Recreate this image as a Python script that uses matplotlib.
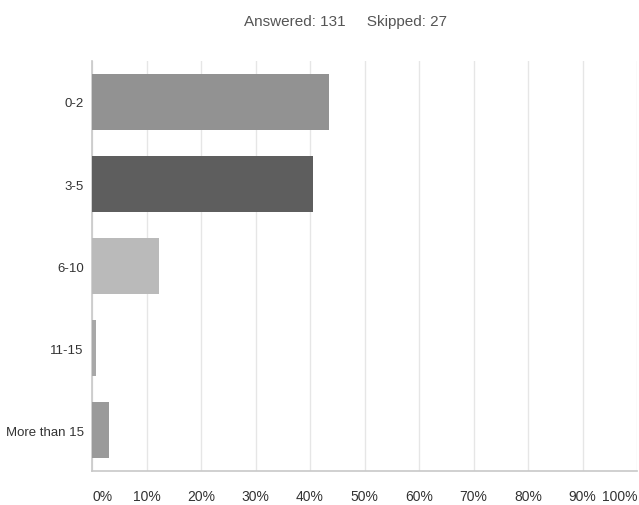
import matplotlib.pyplot as plt

categories = ['0-2', '3-5', '6-10', '11-15', 'More than 15']
percents = [43.51, 40.46, 12.21, 0.76, 3.05]
bar_colors = ['#929292', '#5e5e5e', '#bababa', '#a8a8a8', '#9a9a9a']
x_ticks = [0, 10, 20, 30, 40, 50, 60, 70, 80, 90, 100]
x_labels = [f'{t}%' for t in x_ticks]
title = 'Answered: 131     Skipped: 27'

plt.rcParams['font.family'] = ['Liberation Sans', 'DejaVu Sans']

fig = plt.figure(figsize=(6.39, 5.06), dpi=100)
ax = fig.add_axes([0.144, 0.067, 0.853, 0.8105])

ax.barh(range(len(categories)), percents, height=0.68, color=bar_colors, zorder=3)

ax.set_xlim(0, 100)
ax.set_ylim(len(categories) - 0.5, -0.5)
ax.set_yticks(range(len(categories)))
ax.set_yticklabels(categories, fontsize=9.5, color='#333333')
ax.set_xticks(x_ticks)
ax.set_xticklabels(x_labels, fontsize=10, color='#333333')
lbls = ax.get_xticklabels()
lbls[0].set_ha('left')
lbls[-1].set_ha('right')

ax.tick_params(axis='y', length=0, pad=6)
ax.tick_params(axis='x', length=0, pad=13)
ax.grid(axis='x', color='#e6e6e6', linewidth=1, zorder=0)

for side in ['top', 'right']:
    ax.spines[side].set_visible(False)
for side in ['left', 'bottom']:
    ax.spines[side].set_color('#c8c8c8')
    ax.spines[side].set_linewidth(1.2)

fig.text(0.54, 0.957, title, ha='center', va='center', fontsize=11, color='#555555')

fig.savefig('out.png', dpi=100)
